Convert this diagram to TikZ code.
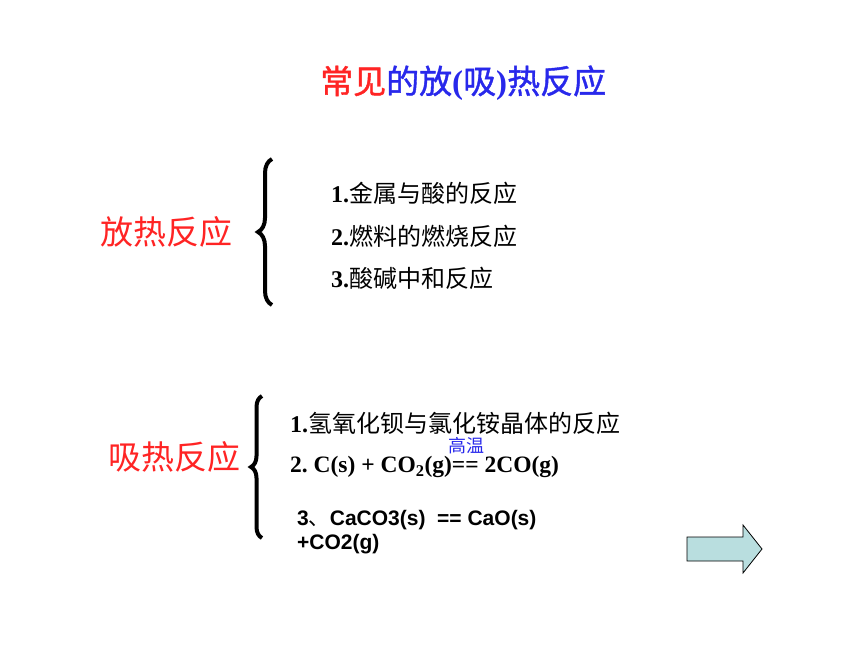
\documentclass[tikz,border=0pt]{standalone}
\usepackage{fontspec}
\setmainfont{Liberation Serif}
\newfontfamily\cjk{Noto Sans CJK SC}
\newfontfamily\cjkheavy{Noto Sans CJK SC}[FakeBold=1.2]
\newfontfamily\arialf{Liberation Sans}
\usetikzlibrary{decorations.pathreplacing}
\definecolor{headred}{RGB}{255,36,36}
\definecolor{headblue}{RGB}{40,40,235}
\definecolor{arrowfill}{RGB}{185,222,223}
\newcommand{\zhtext}[1]{{\cjk\mdseries #1}}
\newcommand{\zhhead}[1]{{\cjkheavy\mdseries #1}}
\frenchspacing
\tikzset{
  heading/.style={anchor=west,inner sep=0pt,text=headred,
    font=\cjk\fontsize{33}{40}\selectfont},
  item/.style={anchor=west,inner sep=0pt,
    font=\fontsize{24}{28}\selectfont\bfseries},
  formula/.style={anchor=west,inner sep=0pt,
    font=\fontsize{23.5}{26}\selectfont\bfseries},
  bracket/.style={decorate,decoration={brace,amplitude=#1},line width=4pt},
}
\begin{document}
\begin{tikzpicture}[x=1pt,y=-1pt]
  \useasboundingbox (0,0) rectangle (860,645);
  % title
  \node[anchor=west,inner sep=0pt,font=\fontsize{33}{40}\selectfont\bfseries] (title) at (320,83)
    {\color{headred}\zhhead{常见}\color{headblue}\zhhead{的放}(\zhhead{吸})\zhhead{热反应}};
  % exothermic
  \node[heading] (exo) at (100,232) {放热反应};
  \draw[bracket=14pt] (272,305) -- (272,159);
  \node[item] (exo1) at (331,193) {1.\zhtext{金属与酸的反应}};
  \node[item] (exo2) at (331,236) {2.\zhtext{燃料的燃烧反应}};
  \node[item] (exo3) at (331,278) {3.\zhtext{酸碱中和反应}};
  % endothermic
  \node[heading] (endo) at (108,457) {吸热反应};
  \draw[bracket=11pt] (262,538) -- (262,396);
  \node[item] (endo1) at (290,423) {1.\zhtext{氢氧化钡与氯化铵晶体的反应}};
  \node[formula] (endo2) at (290,467) {2. C(s) + CO\textsubscript{2}(g)== 2CO(g)};
  \node[inner sep=0pt,text=headblue,font=\cjk\fontsize{18}{20}\selectfont] (cond) at (466,446) {高温};
  \node[anchor=north west,inner sep=0pt,align=left,
    font=\arialf\fontsize{21}{24}\selectfont\bfseries] (endo3) at (297,510)
    {3\zhtext{、}CaCO3(s)\ \ == CaO(s)\\+CO2(g)};
  % next arrow
  \draw[fill=arrowfill,line width=0.8pt] (687,537) -- (743,537) -- (743,525) -- (762,549)
    -- (743,573) -- (743,561) -- (687,561) -- cycle;
\end{tikzpicture}
\end{document}
